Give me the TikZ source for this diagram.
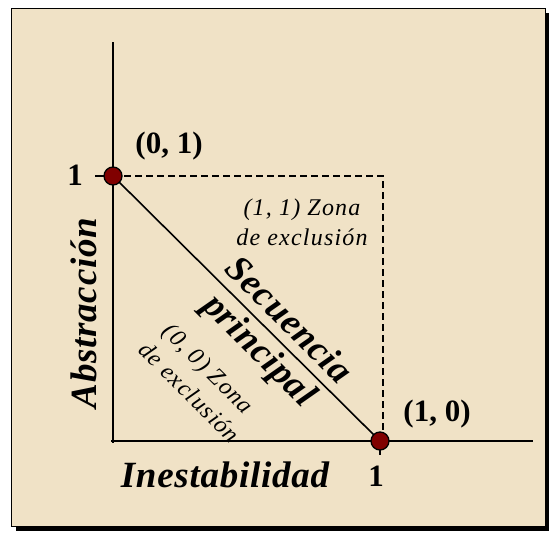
\documentclass[tikz,border=0pt]{standalone}
\usepackage{fontspec}
\setmainfont{Liberation Serif}
\definecolor{paper}{RGB}{240,226,198}
\definecolor{dotred}{RGB}{128,0,0}
\begin{document}
\begin{tikzpicture}[x=1pt,y=-1pt,
  axis/.style={line width=1.6pt},
  guide/.style={line width=1.4pt, dash pattern=on 7pt off 4pt},
  dot/.style={circle, draw=black, line width=1.3pt, fill=dotred, minimum size=18pt, inner sep=0pt},
  bigbi/.style={font=\fontsize{37}{42}\selectfont\bfseries\itshape\addfontfeature{LetterSpace=2}, inner sep=0pt},
  coord/.style={font=\fontsize{31}{35}\selectfont\bfseries, inner sep=0pt},
  zona/.style={font=\fontsize{24}{28}\selectfont\itshape\addfontfeature{LetterSpace=5}, inner sep=0pt}]
\useasboundingbox (0,0) rectangle (550,533);
% frame with shadow
\fill[black] (15.5,12.5) rectangle (549,530.5);
\filldraw[fill=paper, draw=black, line width=1.5pt] (11.5,8.5) rectangle (545.5,526.5);
% coordinates
\coordinate (P01) at (113,176);
\coordinate (P10) at (380,441);
\coordinate (ybot) at (113,443);
\coordinate (ytop) at (113,42);
\coordinate (xbeg) at (111,441);
\coordinate (xend) at (533,441);
\coordinate (C11) at (383,176);
\coordinate (C10) at (383,433);
\coordinate (tickY) at (95,176);
\coordinate (tickX) at (380,455);
% axes
\draw[axis] (ytop) -- (ybot);
\draw[axis] (xbeg) -- (xend);
% dashed guides
\draw[guide] (P01) -- (C11) -- (C10);
% ticks
\draw[axis] (tickY) -- (P01);
\draw[axis] (P10) -- (tickX);
% diagonal
\draw[axis] (P01) -- (P10);
% points
\node[dot] (p01) at (P01) {};
\node[dot] (p10) at (P10) {};
% labels
\node[coord, anchor=base] (l01) at (169,153) {(0, 1)};
\node[coord, anchor=base] (l10) at (437,421) {(1, 0)};
\node[coord, anchor=base] (oney) at (75,185) {1};
\node[coord, anchor=base] (onex) at (376,486) {1};
\node[bigbi, anchor=base] (inest) at (225,487) {Inestabilidad};
\node[bigbi, anchor=base, rotate=90] (abstr) at (96,313) {Abstracción};
\node[bigbi, anchor=base, rotate=-45] (sec) at (281,328) {Secuencia};
\node[bigbi, anchor=base, rotate=-45] (prin) at (252,358) {principal};
\node[zona, anchor=base] (z11a) at (302,215) {(1, 1) Zona};
\node[zona, anchor=base] (z11b) at (302,245) {de exclusión};
\node[zona, anchor=base, rotate=-45] (z00a) at (203,374) {(0, 0) Zona};
\node[zona, anchor=base, rotate=-45] (z00b) at (184,398) {de exclusión};
\end{tikzpicture}
\end{document}
